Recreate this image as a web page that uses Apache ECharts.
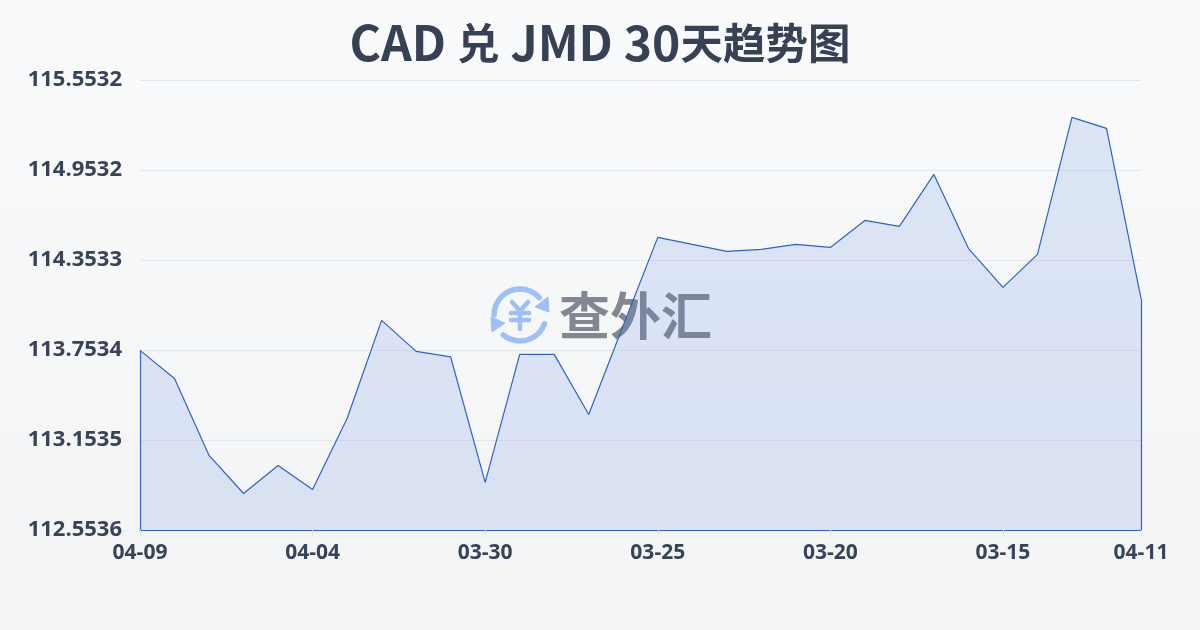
<!DOCTYPE html>
<html><head><meta charset="utf-8">
<style>html,body{margin:0;padding:0;width:1200px;height:630px;overflow:hidden}#c{width:1200px;height:630px}</style>
<script src="https://cdn.jsdelivr.net/npm/echarts@6/dist/echarts.min.js"></script>
</head><body><div id="c"></div>
<script>
const titleText = '{a|CAD }{b|兑}{a| JMD 30}{b|天趋势图}';
const watermarkText = '查外汇';
const categories = ['04-09','04-08','04-07','04-06','04-05','04-04','04-03','04-02','04-01','03-31','03-30','03-29','03-28','03-27','03-26','03-25','03-24','03-23','03-22','03-21','03-20','03-19','03-18','03-17','03-16','03-15','03-14','03-13','03-12','04-11'];
const values = [113.751,113.564,113.051,112.797,112.984,112.824,113.297,113.951,113.744,113.707,112.871,113.724,113.724,113.324,113.917,114.504,114.457,114.411,114.424,114.457,114.437,114.617,114.577,114.924,114.431,114.171,114.391,115.304,115.231,114.097];
const yTicks = [112.5536,113.1535,113.7534,114.3533,114.9532,115.5532];
const xLabelIndexes = [0,5,10,15,20,25,29];

const blue = '#2f62c8';
const edge = {silent:true, symbol:'none', label:{show:false}, animation:false,
  lineStyle:{color:blue,width:1.2,type:'solid'},
  data:[
    [{xAxis:0,yAxis:yTicks[0]},{xAxis:0,yAxis:values[0]}],
    [{xAxis:values.length-1,yAxis:yTicks[0]},{xAxis:values.length-1,yAxis:values[values.length-1]}]
  ]};
const iconColor = '#9dc0f8';
const arcStyle = {stroke:iconColor,fill:null,lineWidth:5.5,lineCap:'round'};
const barStyle = {stroke:iconColor,fill:null,lineWidth:4.5,lineCap:'round'};
const seg = (a,b,c,d)=>({type:'line',shape:{x1:a,y1:b,x2:c,y2:d},style:barStyle,z:1,silent:true});
const rad = d=>d*Math.PI/180;
const titleFont = '"Noto Sans CJK SC",sans-serif';
const titleColor = '#364154';
const chart = echarts.init(document.getElementById('c'),null,{renderer:'canvas'});
chart.setOption({
  animation:false,
  backgroundColor:{type:'linear',x:0,y:0,x2:0,y2:1,colorStops:[{offset:0,color:'#f8fafc'},{offset:1,color:'#f3f4f6'}]},
  title:{text:titleText,left:'center',top:14,textStyle:{fontFamily:titleFont,fontSize:44,fontWeight:'bold',color:titleColor,
    rich:{a:{fontFamily:titleFont,fontSize:48,fontWeight:'bold',color:titleColor},b:{fontFamily:titleFont,fontSize:42.5,fontWeight:'bold',color:titleColor}}}},
  grid:{left:140,right:59,top:80,bottom:100,containLabel:false},
  xAxis:{type:'category',boundaryGap:false,data:categories,
    axisLine:{show:true,lineStyle:{color:blue,width:1.2}},
    axisTick:{show:true,length:6,lineStyle:{color:'#e2e5ea'},interval:(i)=>xLabelIndexes.includes(i)},
    axisLabel:{interval:(i)=>xLabelIndexes.includes(i),color:'#374357',fontFamily:'"Open Sans",sans-serif',fontSize:21,fontWeight:'bold',margin:13},
    splitLine:{show:false}},
  yAxis:{type:'value',min:yTicks[0],max:yTicks[yTicks.length-1],
    axisLine:{show:false},
    axisTick:{show:false,customValues:yTicks},
    axisLabel:{customValues:yTicks,formatter:v=>v.toFixed(4),color:'#374357',fontFamily:'"Open Sans",sans-serif',fontSize:22,fontWeight:'bold',margin:18},
    splitLine:{show:true,lineStyle:{color:'#e4e7ec',width:1}}},
  graphic:[
    {type:'text',left:559,top:290,z:1,silent:true,style:{text:watermarkText,fontFamily:'"Noto Sans CJK SC",sans-serif',fontSize:51,fontWeight:'bold',fill:'rgba(88,92,104,0.72)'}},
    {type:'arc',shape:{cx:520,cy:315,r:26,startAngle:rad(180),endAngle:rad(318)},style:arcStyle,z:1,silent:true},
    {type:'arc',shape:{cx:520,cy:315,r:26,startAngle:rad(20),endAngle:rad(130)},style:arcStyle,z:1,silent:true},
    {type:'polygon',shape:{points:[[548,297],[549,312],[535,307]]},style:{fill:iconColor,stroke:iconColor,lineWidth:1,lineJoin:'round'},z:1,silent:true},
    {type:'polygon',shape:{points:[[491,317],[505,323],[492,332]]},style:{fill:iconColor,stroke:iconColor,lineWidth:1,lineJoin:'round'},z:1,silent:true},
    seg(512,302,520,311),seg(528,302,520,311),seg(511,313,529,313),seg(511,320,529,320),seg(520,311,520,329)
  ],
  series:[{type:'line',data:values,smooth:false,showSymbol:false,symbol:'none',z:5,
    lineStyle:{color:blue,width:1.2},
    areaStyle:{color:'rgba(80,125,225,0.23)',origin:'start'},
    markLine:edge}]
});
</script></body></html>
